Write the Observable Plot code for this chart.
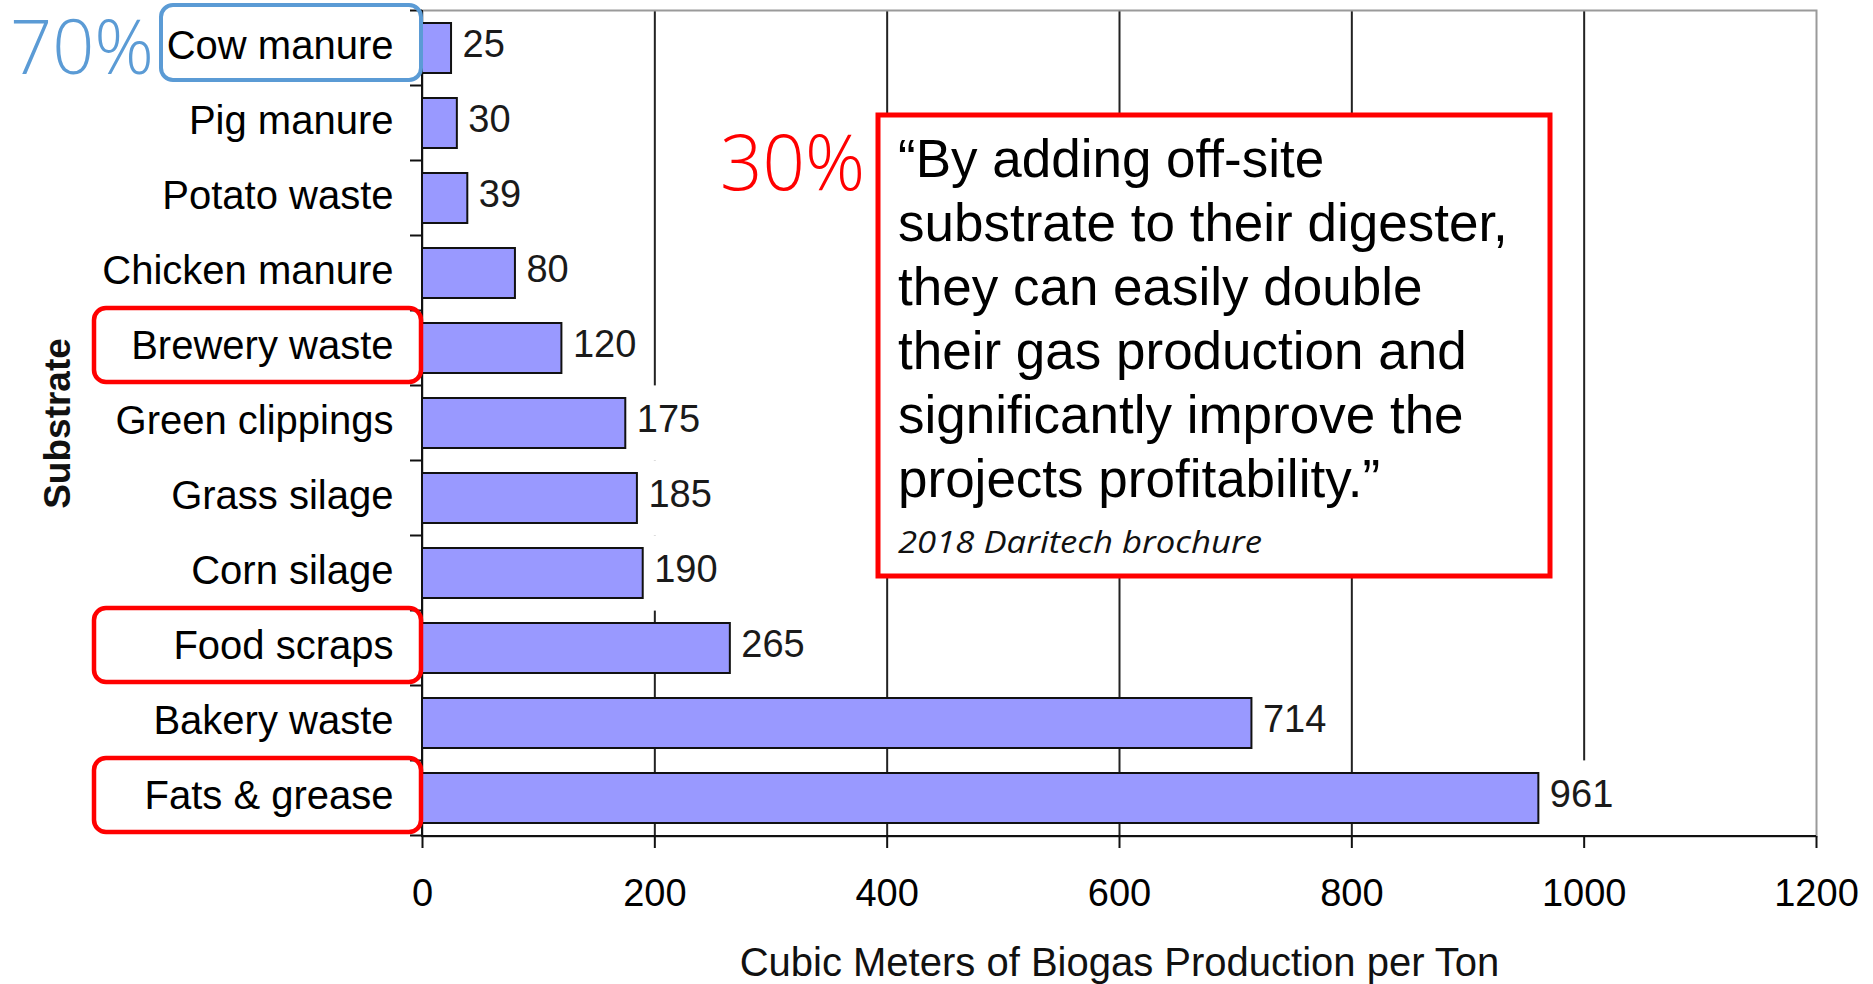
<!DOCTYPE html>
<html>
<head>
<meta charset="utf-8">
<script src="https://cdn.jsdelivr.net/npm/d3@7"></script>
<script src="https://cdn.jsdelivr.net/npm/@observablehq/plot@0.6"></script>
<style>
  html, body { margin: 0; padding: 0; background: #fff; overflow: hidden; }
</style>
</head>
<body>
<div id="chart"></div>
<script>
// ---- data ----
const categories = ["Cow manure", "Pig manure", "Potato waste", "Chicken manure", "Brewery waste",
  "Green clippings", "Grass silage", "Corn silage", "Food scraps", "Bakery waste", "Fats & grease"];
const values = [25, 30, 39, 80, 120, 175, 185, 190, 265, 714, 961];
const xTicks = [0, 200, 400, 600, 800, 1000, 1200];
const gridTicks = [200, 400, 600, 800, 1000];
const xLabel = "Cubic Meters of Biogas Production per Ton";
const yLabel = "Substrate";
const blueHighlight = ["Cow manure"];
const redHighlight = ["Brewery waste", "Food scraps", "Fats & grease"];
const blueShare = "70%";
const redShare = "30%";
const quoteLines = ["\u201CBy adding off-site", "substrate to their digester,", "they can easily double",
  "their gas production and", "significantly improve the", "projects profitability.\u201D"];
const quoteSource = "2018 Daritech brochure";

const data = categories.map((c, i) => ({substrate: c, value: values[i]}));
const FONT = "'Liberation Sans', Arial, Helvetica, sans-serif";
const BLUE = "#5b9bd5";
const RED = "#ff0000";

function bandInfo(scales) {
  const ys = scales.y;
  const bw = typeof ys.bandwidth === "function" ? ys.bandwidth() : scales.scales.y.bandwidth;
  const step = typeof ys.step === "function" ? ys.step() : scales.scales.y.step;
  return {ys, bw, step, gap: (step - bw) / 2};
}

// axis lines, category boundary ticks and annotations
function overlay(index, scales, channels, dims) {
  const {height, marginTop, marginBottom} = dims;
  const {ys, bw, gap} = bandInfo(scales);
  const xs = scales.x;
  const x0 = xs(0), x1 = xs(1200);
  const yTop = marginTop, yBot = height - marginBottom;
  const g = d3.create("svg:g").attr("text-anchor", "start");

  // boundary ticks on category axis
  const bounds = categories.map(c => ys(c) - gap);
  bounds.push(ys(categories[categories.length - 1]) + bw + gap);
  g.append("g").selectAll("line").data(bounds).join("line")
    .attr("x1", x0 - 12).attr("x2", x0).attr("y1", d => d).attr("y2", d => d)
    .attr("stroke", "#111").attr("stroke-width", 2);
  // axis lines
  g.append("line").attr("x1", x0).attr("x2", x0).attr("y1", yTop).attr("y2", yBot + 1)
    .attr("stroke", "#111").attr("stroke-width", 2);
  g.append("line").attr("x1", x0).attr("x2", x1).attr("y1", yBot).attr("y2", yBot)
    .attr("stroke", "#111").attr("stroke-width", 2);

  // highlight boxes around labels
  const center = c => ys(c) + bw / 2;
  g.append("g").selectAll("rect").data(redHighlight).join("rect")
    .attr("x", x0 - 328).attr("width", 327)
    .attr("y", c => center(c) - 40).attr("height", 74)
    .attr("rx", 12).attr("fill", "none").attr("stroke", RED).attr("stroke-width", 4.5);
  g.append("g").selectAll("rect").data(blueHighlight).join("rect")
    .attr("x", x0 - 261).attr("width", 260)
    .attr("y", c => center(c) - 43).attr("height", 75)
    .attr("rx", 12).attr("fill", "none").attr("stroke", BLUE).attr("stroke-width", 4);

  // share labels
  g.append("text").attr("x", 10).attr("y", 74).text(blueShare)
    .attr("text-anchor", "start")
    .attr("fill", BLUE).attr("font-family", "'Open Sans', 'Noto Sans', sans-serif")
    .attr("font-weight", 300).attr("font-size", 76)
    .attr("textLength", 144).attr("lengthAdjust", "spacingAndGlyphs");
  g.append("rect").attr("x", 712).attr("y", 100).attr("width", 166).attr("height", 100).attr("fill", "#fff");
  g.append("text").attr("x", 720).attr("y", 190).text(redShare)
    .attr("text-anchor", "start")
    .attr("fill", RED).attr("font-family", "'Open Sans', 'Noto Sans', sans-serif")
    .attr("font-weight", 300).attr("font-size", 78)
    .attr("textLength", 145).attr("lengthAdjust", "spacingAndGlyphs");

  // quote box
  g.append("rect").attr("x", 878).attr("y", 115).attr("width", 672).attr("height", 461)
    .attr("fill", "#fff").attr("stroke", RED).attr("stroke-width", 5);
  g.append("g").selectAll("text").data(quoteLines).join("text")
    .attr("text-anchor", "start")
    .attr("x", 898).attr("y", (d, i) => 177 + i * 64)
    .attr("font-family", FONT).attr("font-size", 53).attr("fill", "#000")
    .text(d => d);
  g.append("text").attr("x", 898).attr("y", 553).text(quoteSource)
    .attr("text-anchor", "start")
    .attr("font-family", "'Open Sans', 'Noto Sans', sans-serif").attr("font-style", "italic")
    .attr("font-size", 31).attr("fill", "#111")
    .attr("textLength", 364).attr("lengthAdjust", "spacingAndGlyphs");
  return g.node();
}

const chart = Plot.plot({
  width: 1873,
  height: 984,
  marginLeft: 422,
  marginRight: 57,
  marginTop: 10,
  marginBottom: 148,
  style: {fontFamily: FONT, background: "#fff", color: "#000", overflow: "visible"},
  x: {domain: [0, 1200]},
  y: {domain: categories, paddingInner: 0.33, paddingOuter: 0.165},
  marks: [
    Plot.ruleX(gridTicks, {x: d => d, stroke: "#222", strokeWidth: 2}),
    // white backgrounds behind value labels (hide gridlines there)
    Plot.barX(data, {x1: "value", x2: "value", y: "substrate", fill: "#fff",
      insetRight: -80, insetTop: -12.6, insetBottom: -12.6}),
    Plot.frame({stroke: "#9a9a9a", strokeWidth: 2}),
    Plot.barX(data, {x: "value", y: "substrate", fill: "#9999ff", stroke: "#111", strokeWidth: 2}),
    Plot.text(data, {x: "value", y: "substrate", text: d => String(d.value), dx: 11, dy: -4,
      textAnchor: "start", fontSize: 38, fill: "#1a1a1a"}),
    Plot.axisY({tickSize: 0, tickPadding: 29, fontSize: 40, fill: "#000", label: null, dy: -2}),
    Plot.axisX({ticks: xTicks, tickSize: 12, tickPadding: 31, fontSize: 38, strokeWidth: 2,
      stroke: "#111", fill: "#000", label: null, tickFormat: d => String(d)}),
    Plot.text([xLabel], {text: d => d, frameAnchor: "bottom", dy: 127, lineAnchor: "middle",
      textAnchor: "middle", fontSize: 40, fill: "#111"}),
    Plot.text([yLabel], {text: d => d, frameAnchor: "left", dx: -364, rotate: -90, lineAnchor: "middle",
      textAnchor: "middle", fontSize: 37, fontWeight: "bold", fill: "#111"}),
    overlay
  ]
});
document.getElementById("chart").append(chart);
</script>
</body>
</html>
